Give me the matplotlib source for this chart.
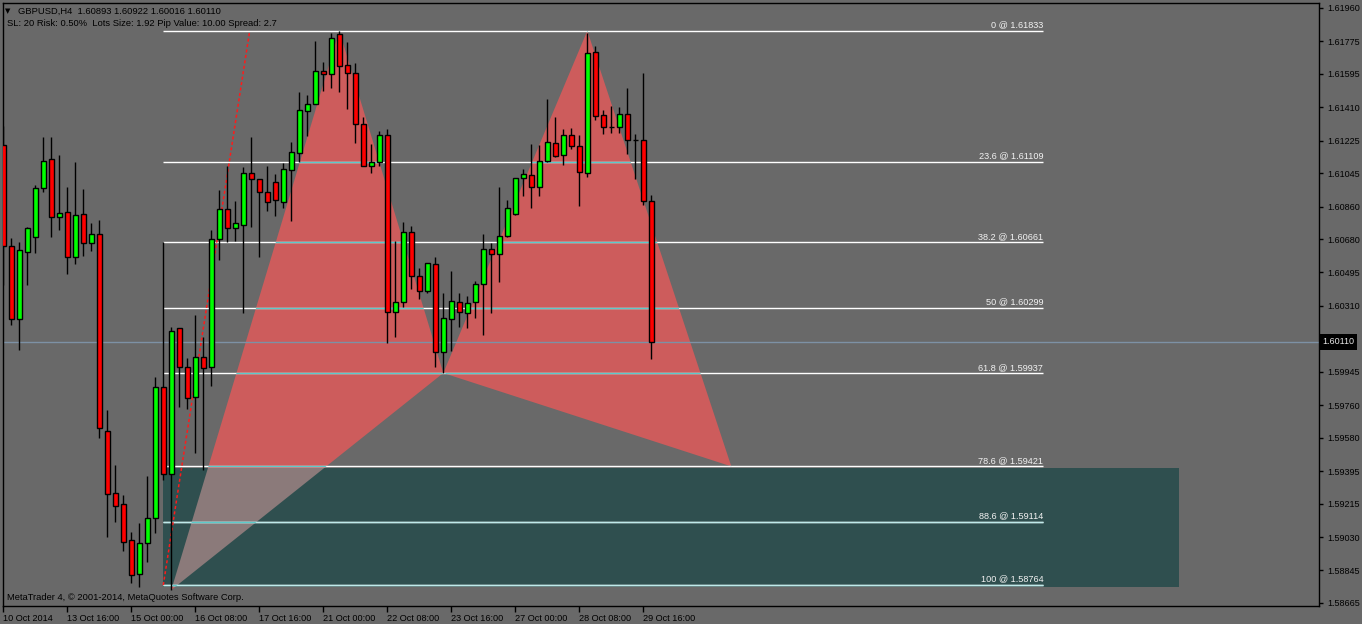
import numpy as np
import matplotlib
matplotlib.use("Agg")
import matplotlib.pyplot as plt
import matplotlib.patches as patches

plt.rcParams['font.family'] = ['Liberation Sans', 'DejaVu Sans']

# GBPUSD H4 candles
opens = [1.61201, 1.60642, 1.60237, 1.60608, 1.60692, 1.60963, 1.61124, 1.60802, 1.60830, 1.60581,
         1.60819, 1.60658, 1.60708, 1.59617, 1.59274, 1.59213, 1.59014, 1.58825, 1.58997, 1.59135,
         1.59861, 1.59379, 1.60188, 1.59972, 1.59805, 1.60027, 1.59972, 1.60680, 1.60847, 1.60741,
         1.60758, 1.61046, 1.61013, 1.60941, 1.60996, 1.60885, 1.61063, 1.61157, 1.61389, 1.61428,
         1.61611, 1.61594, 1.61816, 1.61644, 1.61600, 1.61317, 1.61085, 1.61107, 1.61256, 1.60276,
         1.60332, 1.60719, 1.60476, 1.60392, 1.60542, 1.60055, 1.60237, 1.60332, 1.60271, 1.60332,
         1.60431, 1.60625, 1.60597, 1.60697, 1.60819, 1.61018, 1.61035, 1.60968, 1.61112, 1.61212,
         1.61146, 1.61256, 1.61196, 1.61046, 1.61716, 1.61367, 1.61301, 1.61301, 1.61373, 1.61229,
         1.61229, 1.60893]
highs = [1.61306, 1.60686, 1.60664, 1.60747, 1.60980, 1.61245, 1.61245, 1.61146, 1.60968, 1.61107,
         1.60957, 1.60769, 1.60786, 1.59733, 1.59429, 1.59263, 1.59058, 1.59108, 1.59368, 1.59916,
         1.60664, 1.60193, 1.60188, 1.60021, 1.60260, 1.60138, 1.60730, 1.60952, 1.61085, 1.60891,
         1.61079, 1.61245, 1.61013, 1.61085, 1.61040, 1.61101, 1.61218, 1.61495, 1.61478, 1.61777,
         1.61661, 1.61821, 1.61833, 1.61771, 1.61655, 1.61356, 1.61207, 1.61279, 1.61290, 1.60669,
         1.60775, 1.60752, 1.60520, 1.60548, 1.60581, 1.60381, 1.60503, 1.60381, 1.60365, 1.60448,
         1.60708, 1.60658, 1.60968, 1.60896, 1.61018, 1.61068, 1.61207, 1.61201, 1.61456, 1.61356,
         1.61290, 1.61295, 1.61256, 1.61820, 1.61749, 1.61395, 1.61417, 1.61411, 1.61517, 1.61262,
         1.61600, 1.60922]
lows = [1.60426, 1.60204, 1.60066, 1.60426, 1.60603, 1.60941, 1.60692, 1.60730, 1.60487, 1.60542,
        1.60586, 1.60614, 1.59578, 1.59030, 1.59113, 1.58953, 1.58775, 1.58753, 1.58892, 1.59052,
        1.59346, 1.58737, 1.59750, 1.59739, 1.59495, 1.59401, 1.59866, 1.60564, 1.60664, 1.60669,
        1.60271, 1.60747, 1.60581, 1.60836, 1.60808, 1.60852, 1.60780, 1.61107, 1.61251, 1.61428,
        1.61500, 1.61517, 1.61495, 1.61400, 1.61212, 1.61085, 1.61046, 1.61085, 1.60105, 1.60138,
        1.60304, 1.60404, 1.60348, 1.60381, 1.59972, 1.59938, 1.60060, 1.60193, 1.60188, 1.60243,
        1.60149, 1.60271, 1.60442, 1.60692, 1.60813, 1.60919, 1.60852, 1.60919, 1.61107, 1.61135,
        1.61090, 1.61179, 1.60863, 1.61024, 1.61339, 1.61262, 1.61267, 1.61267, 1.61151, 1.61013,
        1.60869, 1.60016]
closes = [1.60642, 1.60237, 1.60620, 1.60741, 1.60963, 1.61112, 1.60802, 1.60824, 1.60581, 1.60813,
          1.60658, 1.60708, 1.59634, 1.59268, 1.59202, 1.59002, 1.58820, 1.58997, 1.59135, 1.59861,
          1.59379, 1.60171, 1.59972, 1.59800, 1.60027, 1.59966, 1.60680, 1.60847, 1.60741, 1.60769,
          1.61046, 1.61013, 1.60941, 1.60885, 1.60896, 1.61068, 1.61162, 1.61395, 1.61428, 1.61611,
          1.61594, 1.61794, 1.61639, 1.61600, 1.61317, 1.61085, 1.61107, 1.61256, 1.60276, 1.60332,
          1.60719, 1.60476, 1.60392, 1.60548, 1.60055, 1.60243, 1.60337, 1.60276, 1.60326, 1.60431,
          1.60625, 1.60597, 1.60697, 1.60852, 1.61018, 1.61040, 1.60968, 1.61112, 1.61218, 1.61140,
          1.61256, 1.61196, 1.61052, 1.61711, 1.61362, 1.61301, 1.61300, 1.61373, 1.61229, 1.61228,
          1.60893, 1.60110]

time_labels = ["10 Oct 2014", "13 Oct 16:00", "15 Oct 00:00", "16 Oct 08:00", "17 Oct 16:00",
               "21 Oct 00:00", "22 Oct 08:00", "23 Oct 16:00", "27 Oct 00:00", "28 Oct 08:00",
               "29 Oct 16:00"]
label_step = 8

price_ticks = [1.61960, 1.61775, 1.61595, 1.61410, 1.61225, 1.61045, 1.60860, 1.60680, 1.60495,
               1.60310, 1.59945, 1.59760, 1.59580, 1.59395, 1.59215, 1.59030, 1.58845, 1.58665]

# fibonacci retracement
fib_levels = [0, 23.6, 38.2, 50, 61.8, 78.6, 88.6, 100]
fib_prices = [1.61833, 1.61109, 1.60661, 1.60299, 1.59937, 1.59421, 1.59114, 1.58764]
fib_start, fib_end = 20, 130
fib_trend = ([20, 30.8], [1.58764, 1.61833])

# harmonic pattern X A B C D (bar index, price)
pattern_idx = [21, 42, 55, 73, 91]
pattern_px = [1.58737, 1.61833, 1.59938, 1.61833, 1.59421]

# target zone
zone_start, zone_end = 20, 147
zone_top, zone_bottom = 1.59412, 1.58753

last_price = 1.60110

BG = '#696969'
W, H = 1362, 624

fig = plt.figure(figsize=(W / 100, H / 100), dpi=100)
fig.patch.set_facecolor(BG)
ax = fig.add_axes([3 / W, (H - 606) / H, 1316 / W, 603 / H])
ax.set_facecolor(BG)
ax.set_xlim(-0.0375, 164.46)
ax.set_ylim(1.58648, 1.61987)

pts = list(zip(pattern_idx, pattern_px))
xab = patches.Polygon(pts[0:3], closed=True, facecolor='#cd5c5c', edgecolor='none', zorder=1)
bcd = patches.Polygon(pts[2:5], closed=True, facecolor='#cd5c5c', edgecolor='none', zorder=1)
ax.add_patch(xab)
ax.add_patch(bcd)

zone = patches.Rectangle((zone_start, zone_bottom), zone_end - zone_start, zone_top - zone_bottom,
                         facecolor='#2f4f4f', edgecolor='none', zorder=1.5)
ax.add_patch(zone)
overlap = patches.Polygon(pts[0:3], closed=True, facecolor='#8b7a7a', edgecolor='none', zorder=1.6)
ax.add_patch(overlap)
overlap.set_clip_path(zone)

# fib lines, tinted where they cross the filled objects
for lvl, p in zip(fib_levels, fib_prices):
    ax.hlines(p, fib_start, fib_end, colors='white', lw=1, zorder=2)
    lz = ax.hlines(p, fib_start, fib_end, colors='#bfeaea', lw=1, zorder=2.1)
    lz.set_clip_path(zone)
    for tri in (xab, bcd):
        lt = ax.hlines(p, fib_start, fib_end, colors='#5ccaca', lw=1, zorder=2.2)
        lt.set_clip_path(tri)
    ax.annotate(f"{lvl:g} @ {p:.5f}", (fib_end, p), xytext=(0, 1), textcoords='offset points',
                ha='right', va='bottom', color='#f2f2f2', fontsize=6.6, zorder=6)

ax.plot(fib_trend[0], fib_trend[1], color='#ff1a1a', lw=1.1, ls=(0, (2, 1.6)), zorder=2.6)
ax.axhline(last_price, color='#7d91a5', lw=1, zorder=2.5)

# candles
o = np.array(opens)
c = np.array(closes)
idx = np.arange(len(o))
cols = np.where(c > o, '#00ff00', '#ff0000')
ax.vlines(idx, lows, highs, colors='black', lw=1, zorder=3)
ax.bar(idx, np.abs(c - o), bottom=np.minimum(o, c), width=0.62, color=cols,
       edgecolor='black', lw=1, zorder=4)

# axes styling
for s in ax.spines.values():
    s.set_color('black')
    s.set_linewidth(1)
ax.yaxis.tick_right()
ax.set_yticks(price_ticks)
ax.set_yticklabels([f"{t:.5f}" for t in price_ticks])
ax.tick_params(axis='y', direction='out', length=3, width=1, colors='black', labelsize=6.5, pad=3)
ax.set_xticks(np.arange(0, len(time_labels) * label_step, label_step))
ax.set_xticklabels(time_labels, ha='left')
ax.tick_params(axis='x', direction='out', length=4, width=1, colors='black', labelsize=6.6, pad=2)

ax.text(1.0025, last_price, f"{last_price:.5f}", transform=ax.get_yaxis_transform(),
        ha='left', va='center', color='#e6e6e6', fontsize=6.5, zorder=10, clip_on=False,
        bbox=dict(facecolor='black', edgecolor='none', boxstyle='square,pad=0.35'))

def px(x, y):
    return x / W, 1 - y / H

fig.text(*px(5, 11), "\u25bc", fontsize=5, color='black', va='center', family='DejaVu Sans')
fig.text(*px(18, 11), f"GBPUSD,H4  {opens[-1]:.5f} {highs[-1]:.5f} {lows[-1]:.5f} {closes[-1]:.5f}",
         fontsize=6.75, color='black', va='center')
fig.text(*px(7, 24), "SL: 20 Risk: 0.50%  Lots Size: 1.92 Pip Value: 10.00 Spread: 2.7",
         fontsize=6.75, color='black', va='center')
fig.text(*px(7, 598), "MetaTrader 4, \u00a9 2001-2014, MetaQuotes Software Corp.",
         fontsize=6.75, color='black', va='center')

fig.savefig("out.png", dpi=100, facecolor=BG)
